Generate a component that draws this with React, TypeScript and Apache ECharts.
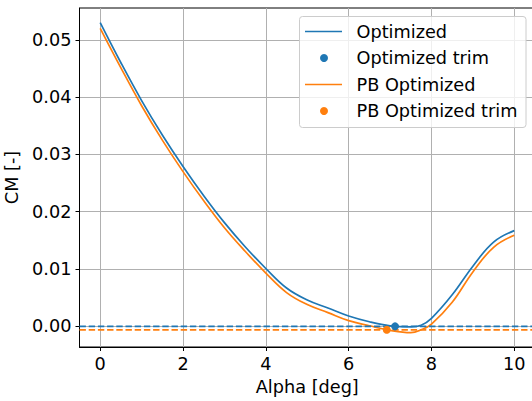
import React, { useEffect, useRef } from "react";
import * as echarts from "echarts";

const alpha = [0, 0.5, 1, 1.5, 2, 2.5, 3, 3.5, 4, 4.5, 5, 5.5, 6, 6.5, 7, 7.5, 7.75, 8, 8.5, 9, 9.5, 10];
const cmOptimized = [0.053, 0.046, 0.0394, 0.0334, 0.0279, 0.0228, 0.0181, 0.0139, 0.0101, 0.0067, 0.0046, 0.0032, 0.0018, 0.0008, 0.0001, -0.0001, 0.0002, 0.0014, 0.0055, 0.0105, 0.0147, 0.0167];
const cmPB = [0.052, 0.0451, 0.0385, 0.0325, 0.027, 0.0219, 0.0172, 0.0131, 0.0093, 0.0059, 0.0038, 0.0024, 0.001, 0.0001, -0.0007, -0.0011, -0.0006, 0.0004, 0.0042, 0.0095, 0.0138, 0.0159];
const trimOptimized = [7.12, 0.0];
const trimPB = [6.92, -0.0006];
const xTicks = [0, 2, 4, 6, 8, 10];
const yTicks = [0, 0.01, 0.02, 0.03, 0.04, 0.05];
const legendNames = ["Optimized", "Optimized trim", "PB Optimized", "PB Optimized trim"];

const BLUE = "#1f77b4";
const ORANGE = "#ff7f0e";
const FONT = "DejaVu Sans";
const FS = 17.7;
const X_MIN = -0.5;
const X_MAX = 10.5;

export default function App() {
  const ref = useRef<HTMLDivElement>(null);
  useEffect(() => {
    if (!ref.current) return;
    const chart = echarts.init(ref.current, undefined, { renderer: "svg" });
    const zip = (xs: number[], ys: number[]) => xs.map((x, i) => [x, ys[i]]);

    const legendColors = [BLUE, BLUE, ORANGE, ORANGE];
    const rowY = [31.5, 58, 84.5, 111];
    const legendItems: any[] = [
      {
        type: "rect",
        shape: { x: 299.5, y: 16.5, width: 226.5, height: 111, r: 3 },
        style: { fill: "rgba(255,255,255,0.8)", stroke: "#cccccc", lineWidth: 1 },
        z: 100,
      },
    ];
    legendNames.forEach((name, i) => {
      const y = rowY[i];
      if (i % 2 === 0) {
        legendItems.push({
          type: "line",
          shape: { x1: 305, y1: y, x2: 342, y2: y },
          style: { stroke: legendColors[i], lineWidth: 1.7 },
          z: 101,
        });
      } else {
        legendItems.push({
          type: "circle",
          shape: { cx: 324, cy: y, r: 4 },
          style: { fill: legendColors[i] },
          z: 101,
        });
      }
      legendItems.push({
        type: "text",
        x: 356.5,
        y: y,
        style: { text: name, font: `${FS}px "${FONT}"`, fill: "#000", verticalAlign: "middle", align: "left" },
        z: 101,
      });
    });

    chart.setOption({
      animation: false,
      backgroundColor: "#fff",
      textStyle: { fontFamily: FONT },
      grid: {
        left: 79.5,
        right: -3,
        top: 8,
        bottom: 54,
        show: true,
        borderColor: "#000",
        borderWidth: 1,
        backgroundColor: "transparent",
        containLabel: false,
        outerBoundsMode: "none",
      },
      graphic: legendItems,
      xAxis: {
        type: "value",
        min: X_MIN,
        max: X_MAX,
        name: "Alpha [deg]",
        nameLocation: "middle",
        nameGap: 27,
        nameTextStyle: { fontFamily: FONT, fontSize: FS, color: "#000", verticalAlign: "top" },
        axisLine: { show: true, onZero: false, lineStyle: { color: "#000", width: 1 } },
        axisTick: { show: true, length: 4, lineStyle: { color: "#000" }, customValues: xTicks },
        axisLabel: { fontFamily: FONT, fontSize: FS, color: "#000", margin: 8, customValues: xTicks, formatter: (v: number) => String(v) },
        splitLine: { show: true, lineStyle: { color: "#b0b0b0", width: 1 } },
      },
      yAxis: {
        type: "value",
        min: -0.0036,
        max: 0.05555,
        name: "CM [-]",
        nameLocation: "middle",
        nameGap: 54,
        nameTextStyle: { fontFamily: FONT, fontSize: FS, color: "#000" },
        axisLine: { show: true, onZero: false, lineStyle: { color: "#000", width: 1 } },
        axisTick: { show: true, length: 4, lineStyle: { color: "#000" }, customValues: yTicks },
        axisLabel: { fontFamily: FONT, fontSize: FS, color: "#000", margin: 8, customValues: yTicks, formatter: (v: number) => v.toFixed(2) },
        splitLine: { show: true, lineStyle: { color: "#b0b0b0", width: 1 } },
      },
      series: [
        {
          name: "Optimized",
          type: "line",
          data: zip(alpha, cmOptimized),
          smooth: 0.4,
          symbol: "none",
          lineStyle: { color: BLUE, width: 1.7 },
          itemStyle: { color: BLUE },
          z: 3,
        },
        {
          name: "PB Optimized",
          type: "line",
          data: zip(alpha, cmPB),
          smooth: 0.4,
          symbol: "none",
          lineStyle: { color: ORANGE, width: 1.7 },
          itemStyle: { color: ORANGE },
          z: 3,
        },
        {
          name: "Optimized trim",
          type: "scatter",
          data: [trimOptimized],
          symbol: "circle",
          symbolSize: 8,
          itemStyle: { color: BLUE, opacity: 1 },
          z: 5,
        },
        {
          name: "PB Optimized trim",
          type: "scatter",
          data: [trimPB],
          symbol: "circle",
          symbolSize: 8,
          itemStyle: { color: ORANGE, opacity: 1 },
          z: 5,
        },
        {
          name: "Optimized trim line",
          type: "line",
          data: [[X_MIN, trimOptimized[1]], [X_MAX, trimOptimized[1]]],
          symbol: "none",
          silent: true,
          lineStyle: { color: BLUE, type: [6.4, 2.8], width: 1.7 },
          z: 4,
        },
        {
          name: "PB Optimized trim line",
          type: "line",
          data: [[X_MIN, trimPB[1]], [X_MAX, trimPB[1]]],
          symbol: "none",
          silent: true,
          lineStyle: { color: ORANGE, type: [6.4, 2.8], width: 1.7 },
          z: 4,
        },
      ],
    });
    return () => chart.dispose();
  }, []);
  return <div ref={ref} style={{ position: "fixed", left: 0, top: 0, width: 532, height: 401 }} />;
}
